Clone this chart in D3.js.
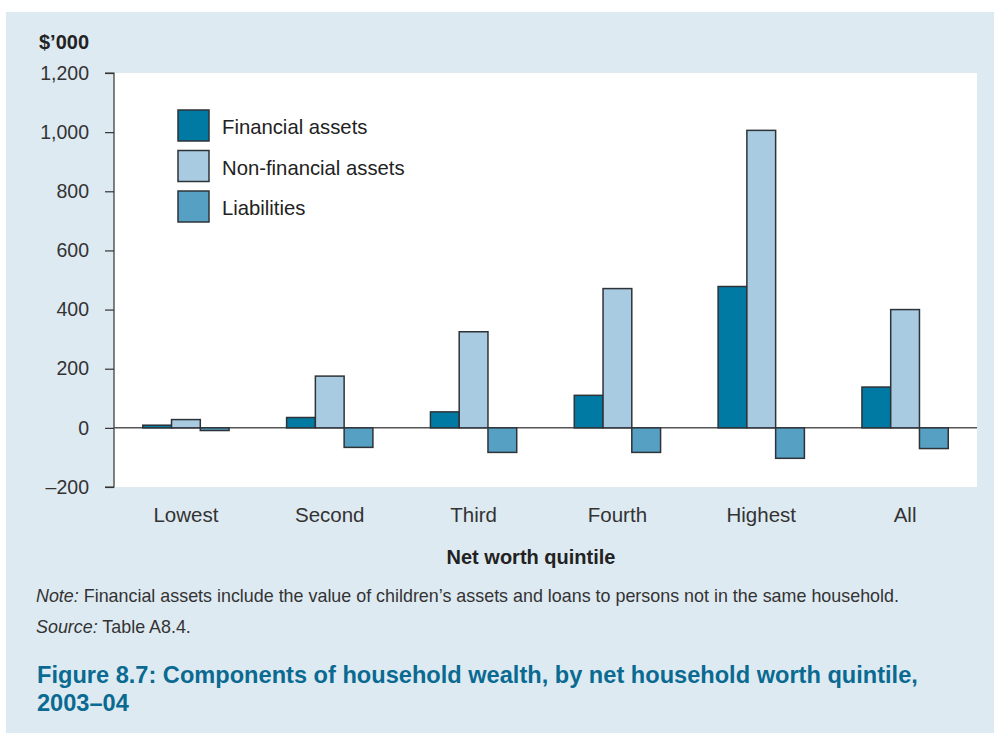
<!DOCTYPE html>
<html>
<head>
<meta charset="utf-8">
<script src="https://cdn.jsdelivr.net/npm/d3@7"></script>
<style>
  html, body { margin: 0; padding: 0; background: #ffffff; }
  svg { display: block; font-family: "Liberation Sans", Arial, Helvetica, sans-serif; }
</style>
</head>
<body>
<svg id="chart" width="994" height="733"></svg>
<script>
const categories = ["Lowest", "Second", "Third", "Fourth", "Highest", "All"];
const seriesNames = ["Financial assets", "Non-financial assets", "Liabilities"];
const financialAssets = [9, 35, 54, 110, 478, 138];
const nonFinancialAssets = [28, 175, 325, 471, 1006, 400];
const liabilities = [-9, -66, -83, -83, -103, -70];
const yTicks = [-200, 0, 200, 400, 600, 800, 1000, 1200];
const seriesColors = ["#007aa3", "#a8cbe1", "#56a0c4"];

const seriesValues = [financialAssets, nonFinancialAssets, liabilities];

const svg = d3.select("#chart");
const W = 994, H = 733;

svg.append("rect").attr("x", 6).attr("y", 12).attr("width", W - 6).attr("height", H - 12).attr("fill", "#deeaf2");

const plot = { left: 114, right: 977, top: 73, bottom: 487 };
svg.append("rect").attr("x", plot.left).attr("y", plot.top)
  .attr("width", plot.right - plot.left).attr("height", plot.bottom - plot.top).attr("fill", "#ffffff");

const x0 = d3.scaleBand().domain(categories).range([plot.left, plot.right]).paddingInner(0.4).paddingOuter(0.2);
const x1 = d3.scaleBand().domain(seriesNames).range([0, x0.bandwidth()]);
const y = d3.scaleLinear().domain([-200, 1200]).range([plot.bottom, plot.top]);

// y axis
const yAxis = d3.axisLeft(y).tickValues(yTicks).tickSize(9).tickPadding(16)
  .tickFormat(d => d < 0 ? "\u2013" + d3.format(",")(-d) : d3.format(",")(d));
const ga = svg.append("g").attr("transform", `translate(${plot.left},0)`).call(yAxis);
ga.select(".domain").attr("stroke", "#333").attr("stroke-width", 1.2).attr("d", `M-9,${plot.top}H0V${plot.bottom}H-9`);
ga.selectAll(".tick line").attr("stroke", "#333").attr("stroke-width", 1.2);
ga.selectAll(".tick text").attr("fill", "#333").attr("font-size", 19.5).attr("font-family", "Liberation Sans, Arial, sans-serif");

// zero line
svg.append("line").attr("x1", plot.left).attr("x2", plot.right).attr("y1", y(0)).attr("y2", y(0))
  .attr("stroke", "#555").attr("stroke-width", 1.5);

// bars
const groups = svg.append("g").selectAll("g").data(categories).join("g")
  .attr("transform", d => `translate(${x0(d)},0)`);
groups.selectAll("rect").data((d, i) => seriesNames.map((s, j) => ({ s, j, v: seriesValues[j][i] }))).join("rect")
  .attr("x", d => x1(d.s))
  .attr("width", x1.bandwidth())
  .attr("y", d => y(Math.max(0, d.v)))
  .attr("height", d => Math.abs(y(d.v) - y(0)))
  .attr("fill", d => seriesColors[d.j])
  .attr("stroke", "#2e3338").attr("stroke-width", 1.5);

// x labels
svg.append("g").selectAll("text").data(categories).join("text")
  .attr("x", d => x0(d) + x0.bandwidth() / 2).attr("y", 522)
  .attr("text-anchor", "middle").attr("font-size", 20.5).attr("fill", "#333").text(d => d);

svg.append("text").attr("x", 531).attr("y", 564).attr("text-anchor", "middle")
  .attr("font-size", 20).attr("font-weight", "bold").attr("fill", "#222").text("Net worth quintile");

svg.append("text").attr("x", 39).attr("y", 49).attr("font-size", 20).attr("font-weight", "bold").attr("fill", "#222").text("$\u2019000");

// legend
const legend = svg.append("g");
seriesNames.forEach((s, i) => {
  const yy = 110 + i * 40.5;
  legend.append("rect").attr("x", 178).attr("y", yy).attr("width", 31).attr("height", 31)
    .attr("fill", seriesColors[i]).attr("stroke", "#2e3338").attr("stroke-width", 1.5);
  legend.append("text").attr("x", 222).attr("y", yy + 24).attr("font-size", 20.3).attr("fill", "#222").text(s);
});

// note & source
const note = svg.append("text").attr("x", 36).attr("y", 602).attr("font-size", 17.9).attr("fill", "#333");
note.append("tspan").attr("font-style", "italic").text("Note:");
note.append("tspan").text(" Financial assets include the value of children\u2019s assets and loans to persons not in the same household.");
const src = svg.append("text").attr("x", 36).attr("y", 633).attr("font-size", 17.9).attr("fill", "#333");
src.append("tspan").attr("font-style", "italic").text("Source:");
src.append("tspan").text(" Table A8.4.");

// title
svg.append("text").attr("x", 37).attr("y", 683).attr("font-size", 23.6).attr("font-weight", "bold").attr("fill", "#0a6a91")
  .text("Figure 8.7: Components of household wealth, by net household worth quintile,");
svg.append("text").attr("x", 37).attr("y", 711).attr("font-size", 23.6).attr("font-weight", "bold").attr("fill", "#0a6a91")
  .text("2003\u201304");
</script>
</body>
</html>
